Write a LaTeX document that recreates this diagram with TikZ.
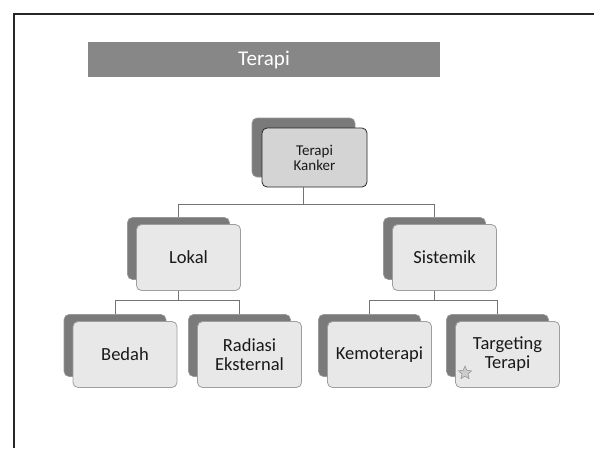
\documentclass[tikz,border=0pt]{standalone}
\usepackage{fontspec}
\setmainfont{Carlito}
\usetikzlibrary{shapes.geometric}

\begin{document}
\begin{tikzpicture}[x=1pt, y=-1pt,
  boxnode/.style={rectangle, rounded corners=5pt, draw=black!38, fill=black!9, line width=0.8pt, minimum width=104pt, minimum height=66pt, align=center, text=black!90, font=\fontsize{18.5}{19}\selectfont},
  shadownode/.style={rectangle, rounded corners=5pt, draw=black!40, fill=black!52, line width=0.6pt, minimum width=102pt, minimum height=62pt},
  link/.style={draw=black!55, line width=0.8pt}]
\useasboundingbox (0,0) rectangle (594,448);
\draw[line width=1.8pt, black!85] (14,448) -- (14,14) -- (594,14);
\node[fill=black!47, minimum width=352pt, minimum height=35pt, text=white, font=\fontsize{21}{22}\selectfont] (Judul) at (264,59.5) {Terapi};
\node[shadownode, minimum width=103pt, minimum height=59pt] (TerapiBg) at (303.5,147.5) {};
\node[boxnode, draw=black!85, fill=black!17, minimum width=105pt, minimum height=59pt, font=\fontsize{15}{15}\selectfont] (Terapi) at (314.5,157.5) {Terapi\\Kanker};
\node[shadownode] (LokalBg) at (178.5,248.5) {};
\node[boxnode] (Lokal) at (188.5,257.5) {Lokal};
\node[shadownode] (SistemikBg) at (434.5,248.5) {};
\node[boxnode] (Sistemik) at (444.5,257.5) {Sistemik};
\node[shadownode] (BedahBg) at (115,345.5) {};
\node[boxnode] (Bedah) at (125,354.5) {Bedah};
\node[shadownode] (RadiasiBg) at (239.5,345.5) {};
\node[boxnode] (Radiasi) at (249.5,354.5) {Radiasi\\Eksternal};
\node[shadownode] (KemoBg) at (369.5,345.5) {};
\node[boxnode] (Kemo) at (379.5,354.5) {Kemoterapi};
\node[shadownode] (TargetBg) at (497.5,345.5) {};
\node[boxnode] (Target) at (507.5,354.5) {Targeting\\Terapi};
\node[star, star points=5, star point ratio=2.2, draw=black!50, fill=black!20, minimum size=14pt, inner sep=0pt] (Bintang) at (465,373) {};
\draw[link] (TerapiBg.center |- Terapi.south) -- ++(0,17) -| (LokalBg.north);
\draw[link] (TerapiBg.center |- Terapi.south) -- ++(0,17) -| (SistemikBg.north);
\draw[link] (LokalBg.center |- Lokal.south) -- ++(0,9) -| (BedahBg.north);
\draw[link] (LokalBg.center |- Lokal.south) -- ++(0,9) -| (RadiasiBg.north);
\draw[link] (SistemikBg.center |- Sistemik.south) -- ++(0,9) -| (KemoBg.north);
\draw[link] (SistemikBg.center |- Sistemik.south) -- ++(0,9) -| (TargetBg.north);
\end{tikzpicture}
\end{document}
